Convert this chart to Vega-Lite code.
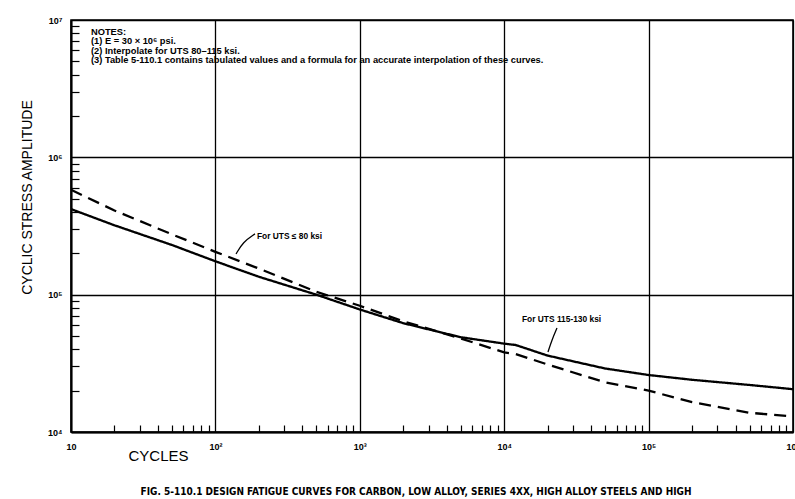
{
  "$schema": "https://vega.github.io/schema/vega-lite/v6.json",
  "autosize": {"type": "none"},
  "padding": {"left": 71, "top": 20, "right": 2, "bottom": 67},
  "width": 722,
  "height": 412,
  "background": "white",
  "config": {
    "view": {"stroke": "black", "strokeWidth": 1.6},
    "font": "Liberation Sans"
  },
  "title": {
    "text": "FIG. 5-110.1 DESIGN FATIGUE CURVES FOR CARBON, LOW ALLOY, SERIES 4XX, HIGH ALLOY STEELS AND HIGH",
    "orient": "bottom",
    "anchor": "middle",
    "font": "DejaVu Sans Condensed",
    "fontSize": 10,
    "fontWeight": "bold",
    "color": "black",
    "offset": 24,
    "dx": -16
  },
  "datasets": {
    "curves": [
      {"N": 10, "S": 580000, "series": "UTS ≤ 80 ksi"},
      {"N": 20, "S": 410000, "series": "UTS ≤ 80 ksi"},
      {"N": 50, "S": 275000, "series": "UTS ≤ 80 ksi"},
      {"N": 100, "S": 205000, "series": "UTS ≤ 80 ksi"},
      {"N": 200, "S": 155000, "series": "UTS ≤ 80 ksi"},
      {"N": 500, "S": 105000, "series": "UTS ≤ 80 ksi"},
      {"N": 1000, "S": 83000, "series": "UTS ≤ 80 ksi"},
      {"N": 2000, "S": 64000, "series": "UTS ≤ 80 ksi"},
      {"N": 5000, "S": 48000, "series": "UTS ≤ 80 ksi"},
      {"N": 10000, "S": 38000, "series": "UTS ≤ 80 ksi"},
      {"N": 12000, "S": 37000, "series": "UTS ≤ 80 ksi"},
      {"N": 20000, "S": 31000, "series": "UTS ≤ 80 ksi"},
      {"N": 50000, "S": 23000, "series": "UTS ≤ 80 ksi"},
      {"N": 100000, "S": 20000, "series": "UTS ≤ 80 ksi"},
      {"N": 200000, "S": 16500, "series": "UTS ≤ 80 ksi"},
      {"N": 500000, "S": 13800, "series": "UTS ≤ 80 ksi"},
      {"N": 1000000, "S": 13000, "series": "UTS ≤ 80 ksi"},
      {"N": 10, "S": 420000, "series": "UTS 115-130 ksi"},
      {"N": 20, "S": 320000, "series": "UTS 115-130 ksi"},
      {"N": 50, "S": 230000, "series": "UTS 115-130 ksi"},
      {"N": 100, "S": 175000, "series": "UTS 115-130 ksi"},
      {"N": 200, "S": 135000, "series": "UTS 115-130 ksi"},
      {"N": 500, "S": 100000, "series": "UTS 115-130 ksi"},
      {"N": 1000, "S": 78000, "series": "UTS 115-130 ksi"},
      {"N": 2000, "S": 62000, "series": "UTS 115-130 ksi"},
      {"N": 5000, "S": 49000, "series": "UTS 115-130 ksi"},
      {"N": 10000, "S": 44000, "series": "UTS 115-130 ksi"},
      {"N": 12000, "S": 43000, "series": "UTS 115-130 ksi"},
      {"N": 20000, "S": 36000, "series": "UTS 115-130 ksi"},
      {"N": 50000, "S": 29000, "series": "UTS 115-130 ksi"},
      {"N": 100000, "S": 26000, "series": "UTS 115-130 ksi"},
      {"N": 200000, "S": 24000, "series": "UTS 115-130 ksi"},
      {"N": 500000, "S": 22000, "series": "UTS 115-130 ksi"},
      {"N": 1000000, "S": 20500, "series": "UTS 115-130 ksi"}
    ],
    "leaders": [
      {"id": "a", "k": 1, "N": 188, "S": 277000},
      {"id": "a", "k": 2, "N": 155, "S": 241500},
      {"id": "a", "k": 3, "N": 139, "S": 197700},
      {"id": "b", "k": 1, "N": 23200, "S": 57100},
      {"id": "b", "k": 2, "N": 21400, "S": 46800},
      {"id": "b", "k": 3, "N": 20100, "S": 38200}
    ],
    "labels": [
      {"N": 194, "S": 267000, "label": "For UTS ≤ 80 ksi"},
      {"N": 13280, "S": 66500, "label": "For UTS 115-130 ksi"}
    ],
    "notes": [
      {"N": 13.75, "S": 8800000, "label": "NOTES:\n(1) E = 30 × 10⁶ psi.\n(2) Interpolate for UTS 80–115 ksi.\n(3) Table 5-110.1 contains tabulated values and a formula for an accurate interpolation of these curves."}
    ]
  },
  "encoding": {
    "x": {
      "field": "N",
      "type": "quantitative",
      "scale": {"type": "log", "domain": [10, 1000000], "nice": false},
      "axis": {
        "title": "CYCLES",
        "titleFont": "Liberation Sans",
        "titleFontSize": 15,
        "titleFontWeight": "normal",
        "titleColor": "black",
        "titleX": 87,
        "titleY": 23,
        "titleAlign": "center",
        "titleBaseline": "middle",
        "values": [10,20,30,40,50,60,70,80,90,100,200,300,400,500,600,700,800,900,1000,2000,3000,4000,5000,6000,7000,8000,9000,10000,20000,30000,40000,50000,60000,70000,80000,90000,100000,200000,300000,400000,500000,600000,700000,800000,900000,1000000],
        "labelExpr": "datum.value == 10 ? '10' : datum.value == 100 ? '10²' : datum.value == 1000 ? '10³' : datum.value == 10000 ? '10⁴' : datum.value == 100000 ? '10⁵' : datum.value == 1000000 ? '10⁶' : ''",
        "labelFont": "Liberation Sans",
        "labelFontSize": 9,
        "labelFontWeight": "bold",
        "labelColor": "black",
        "labelPadding": 17,
        "labelFlush": false,
        "labelOverlap": false,
        "grid": true,
        "gridColor": "black",
        "gridWidth": 1.3,
        "gridOpacity": {"condition": {"test": "abs(log(datum.value)/LN10 - round(log(datum.value)/LN10)) < 0.001", "value": 1}, "value": 0},
        "ticks": true,
        "tickColor": "black",
        "tickWidth": 1.2,
        "tickSize": -7,
        "tickOpacity": {"condition": {"test": "abs(log(datum.value)/LN10 - round(log(datum.value)/LN10)) < 0.001", "value": 0}, "value": 1},
        "domainColor": "black",
        "domainWidth": 2
      }
    },
    "y": {
      "field": "S",
      "type": "quantitative",
      "scale": {"type": "log", "domain": [10000, 10000000], "nice": false},
      "axis": {
        "title": "CYCLIC STRESS AMPLITUDE",
        "titleFont": "Liberation Sans",
        "titleFontSize": 14,
        "titleFontWeight": "normal",
        "titleColor": "black",
        "titleAngle": -90,
        "titleX": -44,
        "titleY": 177,
        "titleAlign": "center",
        "titleBaseline": "middle",
        "values": [10000,20000,30000,40000,50000,60000,70000,80000,90000,100000,200000,300000,400000,500000,600000,700000,800000,900000,1000000,2000000,3000000,4000000,5000000,6000000,7000000,8000000,9000000,10000000],
        "labelExpr": "datum.value == 10000 ? '10⁴' : datum.value == 100000 ? '10⁵' : datum.value == 1000000 ? '10⁶' : datum.value == 10000000 ? '10⁷' : ''",
        "labelFont": "Liberation Sans",
        "labelFontSize": 9,
        "labelFontWeight": "bold",
        "labelColor": "black",
        "labelPadding": 17,
        "labelFlush": false,
        "labelOverlap": false,
        "grid": true,
        "gridColor": "black",
        "gridWidth": 1.3,
        "gridOpacity": {"condition": {"test": "abs(log(datum.value)/LN10 - round(log(datum.value)/LN10)) < 0.001", "value": 1}, "value": 0},
        "ticks": true,
        "tickColor": "black",
        "tickWidth": 1.2,
        "tickSize": -8,
        "tickOpacity": {"condition": {"test": "abs(log(datum.value)/LN10 - round(log(datum.value)/LN10)) < 0.001", "value": 0}, "value": 1},
        "domainColor": "black",
        "domainWidth": 2
      }
    }
  },
  "layer": [
    {
      "data": {"name": "curves"},
      "mark": {"type": "line", "color": "black", "strokeWidth": 2.3, "clip": true},
      "encoding": {
        "detail": {"field": "series", "type": "nominal"},
        "strokeDash": {
          "field": "series",
          "type": "nominal",
          "scale": {"domain": ["UTS ≤ 80 ksi", "UTS 115-130 ksi"], "range": [[12, 7], [1, 0]]},
          "legend": null
        }
      }
    },
    {
      "data": {"name": "leaders"},
      "mark": {"type": "line", "color": "black", "strokeWidth": 1.3, "interpolate": "basis"},
      "encoding": {
        "detail": {"field": "id", "type": "nominal"},
        "order": {"field": "k", "type": "quantitative"}
      }
    },
    {
      "data": {"name": "labels"},
      "mark": {"type": "text", "align": "left", "baseline": "middle", "font": "Liberation Sans", "fontSize": 8.4, "fontWeight": "bold", "color": "black"},
      "encoding": {"text": {"field": "label", "type": "nominal"}}
    },
    {
      "data": {"name": "notes"},
      "mark": {"type": "text", "align": "left", "baseline": "top", "lineBreak": "\n", "lineHeight": 9.6, "font": "Liberation Sans", "fontSize": 9.3, "fontWeight": "bold", "color": "black"},
      "encoding": {"text": {"field": "label", "type": "nominal"}}
    }
  ]
}
